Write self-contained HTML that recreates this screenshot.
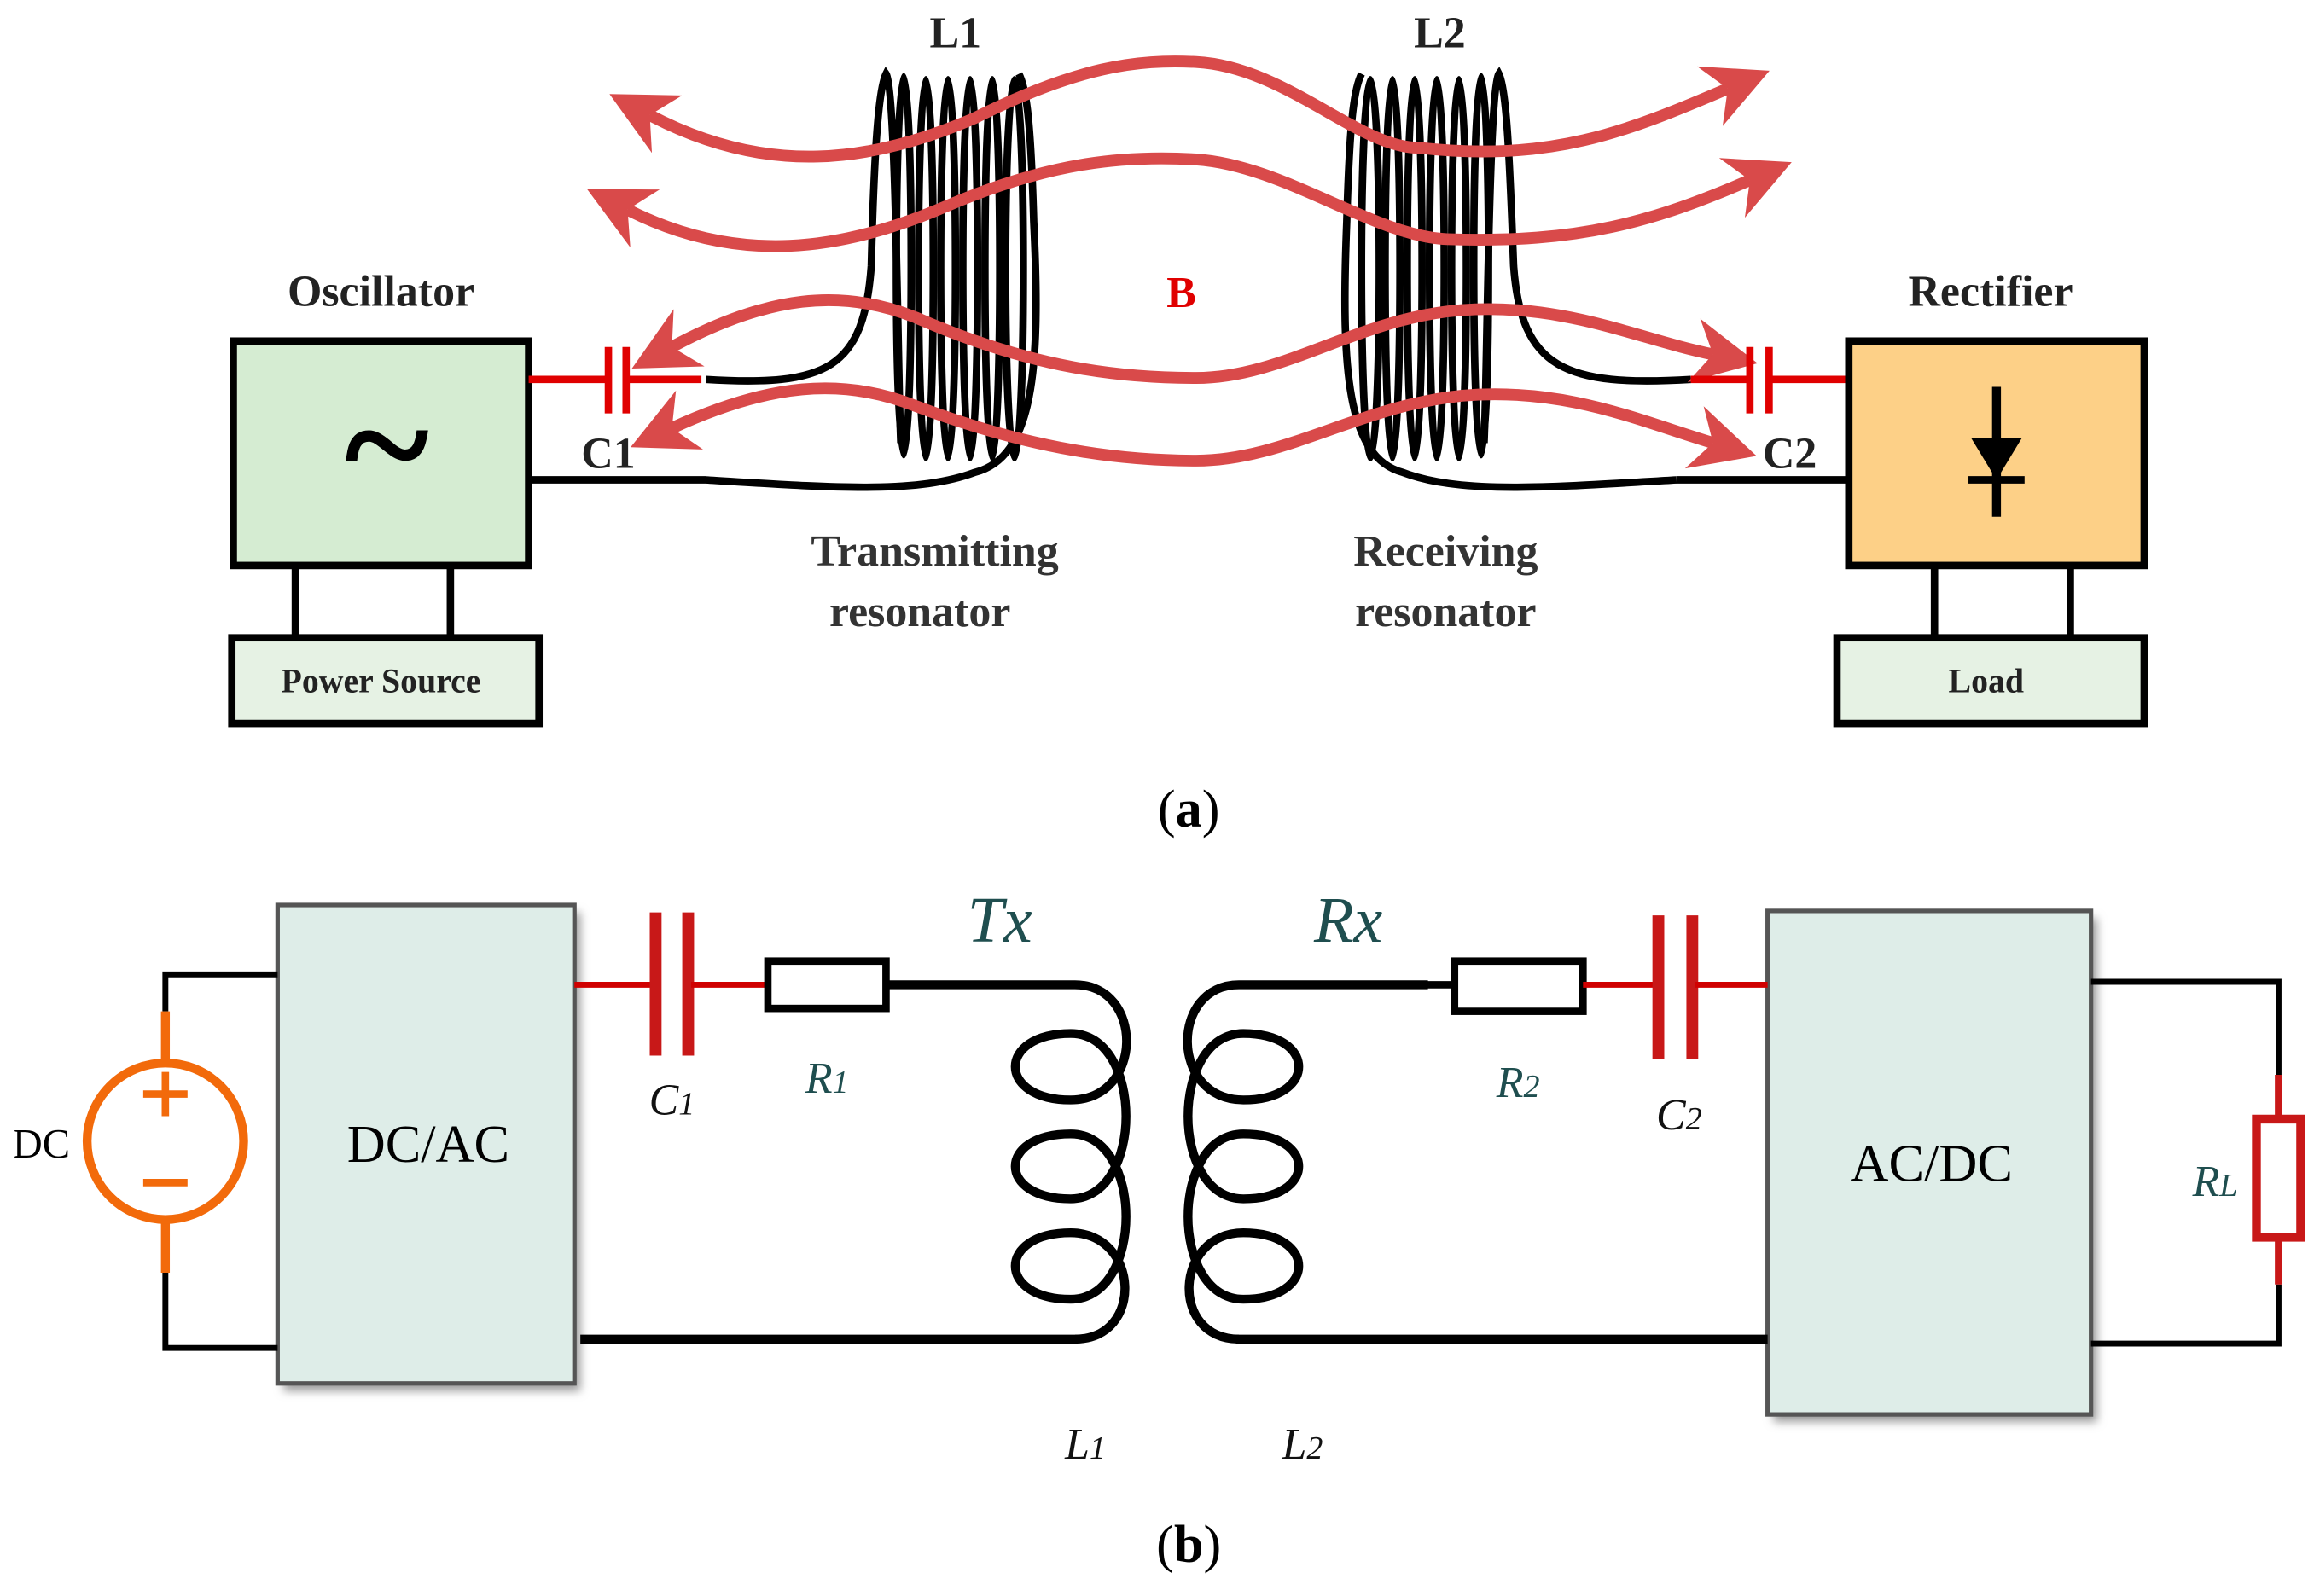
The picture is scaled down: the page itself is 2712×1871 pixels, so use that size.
<!DOCTYPE html>
<html><head><meta charset="utf-8"><style>html,body{margin:0;padding:0;background:#fff}svg{display:block}</style></head>
<body>
<svg width="2712" height="1871" viewBox="0 0 1567 1081" preserveAspectRatio="none" xmlns="http://www.w3.org/2000/svg" font-family="Liberation Serif, serif">
<defs>
<filter id="sh" x="-10%" y="-10%" width="130%" height="130%"><feGaussianBlur stdDeviation="3"/></filter>
<marker id="ah" viewBox="0 0 10 10" refX="3" refY="5" markerWidth="5.5" markerHeight="5.5" orient="auto-start-reverse"><path d="M0,0 L10,5 L0,10 L3,5 z" fill="#d94a4a"/></marker>
</defs>
<!-- (a) -->
<text x="258" y="207" font-size="30" font-weight="bold" text-anchor="middle" fill="#222">Oscillator</text>
<rect x="158" y="231" width="200" height="152" fill="#d5ecd2" stroke="#000" stroke-width="5"/>
<text x="262" y="338" font-size="110" font-weight="bold" text-anchor="middle">~</text>
<line x1="200" y1="383" x2="200" y2="432" stroke="#000" stroke-width="5"/>
<line x1="305" y1="383" x2="305" y2="432" stroke="#000" stroke-width="5"/>
<rect x="157" y="432" width="208" height="58" fill="#e6f2e4" stroke="#000" stroke-width="5"/>
<text x="258" y="469" font-size="23" font-weight="bold" text-anchor="middle" fill="#222">Power Source</text>
<line x1="358" y1="257" x2="412" y2="257" stroke="#e00000" stroke-width="5"/>
<line x1="412" y1="235" x2="412" y2="280" stroke="#e00000" stroke-width="5"/>
<line x1="424" y1="235" x2="424" y2="280" stroke="#e00000" stroke-width="5"/>
<line x1="424" y1="257" x2="475" y2="257" stroke="#e00000" stroke-width="5"/>
<text x="412" y="317" font-size="30" font-weight="bold" text-anchor="middle" fill="#222">C1</text>
<line x1="358" y1="325" x2="478" y2="325" stroke="#000" stroke-width="5"/>
<g fill="none" stroke="#000" stroke-width="5">
<path d="M478,257 C560,262 585,250 590,180 C592,100 595,60 600,50 C607,60 608,260 610,300"/>
<ellipse cx="612" cy="180" rx="5" ry="128"/><ellipse cx="627" cy="182" rx="5" ry="128"/><ellipse cx="642" cy="182" rx="5" ry="128"/>
<ellipse cx="657" cy="182" rx="5" ry="128"/><ellipse cx="672" cy="182" rx="5" ry="128"/><ellipse cx="687" cy="182" rx="6" ry="128"/>
<path d="M478,325 C560,330 620,335 660,320 C700,310 705,250 700,150 C698,80 695,60 690,50"/>
</g>
<text x="647" y="32" font-size="30" font-weight="bold" text-anchor="middle" fill="#222">L1</text>
<g fill="none" stroke="#000" stroke-width="5">
<path d="M1135,325 C1050,330 990,335 950,320 C912,310 908,250 912,150 C914,80 917,60 922,50"/>
<ellipse cx="928" cy="182" rx="6" ry="128"/><ellipse cx="943" cy="182" rx="5" ry="128"/><ellipse cx="958" cy="182" rx="5" ry="128"/>
<ellipse cx="973" cy="182" rx="5" ry="128"/><ellipse cx="988" cy="182" rx="5" ry="128"/><ellipse cx="1003" cy="180" rx="5" ry="128"/>
<path d="M1145,257 C1060,262 1030,250 1025,180 C1022,100 1020,60 1015,50 C1008,60 1007,260 1005,300"/>
</g>
<text x="975" y="32" font-size="30" font-weight="bold" text-anchor="middle" fill="#222">L2</text>
<g fill="none" stroke="#d94a4a" stroke-width="8" marker-start="url(#ah)" marker-end="url(#ah)">
<path d="M440,78 C520,120 590,110 660,80 C730,45 770,40 810,42 C870,45 920,100 960,100 C1050,110 1100,90 1170,60"/>
<path d="M425,142 C500,180 570,170 640,140 C710,110 760,105 810,108 C870,112 930,160 980,162 C1070,165 1120,150 1185,122"/>
<path d="M455,235 C520,200 570,195 620,215 C700,250 760,256 810,256 C870,256 920,215 990,210 C1060,205 1110,230 1160,240"/>
<path d="M455,290 C520,260 570,255 620,275 C700,305 760,312 810,312 C870,312 920,275 990,268 C1060,262 1110,285 1160,300"/>
</g>
<text x="800" y="208" font-size="30" font-weight="bold" text-anchor="middle" fill="#e00000">B</text>
<text x="633" y="383" font-size="30" font-weight="bold" text-anchor="middle" fill="#333">Transmitting</text>
<text x="623" y="424" font-size="30" font-weight="bold" text-anchor="middle" fill="#333">resonator</text>
<text x="979" y="383" font-size="30" font-weight="bold" text-anchor="middle" fill="#333">Receiving</text>
<text x="979" y="424" font-size="30" font-weight="bold" text-anchor="middle" fill="#333">resonator</text>
<line x1="1145" y1="257" x2="1185" y2="257" stroke="#e00000" stroke-width="5"/>
<line x1="1185" y1="235" x2="1185" y2="280" stroke="#e00000" stroke-width="5"/>
<line x1="1198" y1="235" x2="1198" y2="280" stroke="#e00000" stroke-width="5"/>
<line x1="1198" y1="257" x2="1252" y2="257" stroke="#e00000" stroke-width="5"/>
<text x="1212" y="317" font-size="30" font-weight="bold" text-anchor="middle" fill="#222">C2</text>
<line x1="1135" y1="325" x2="1252" y2="325" stroke="#000" stroke-width="5"/>
<text x="1348" y="207" font-size="30" font-weight="bold" text-anchor="middle" fill="#222">Rectifier</text>
<rect x="1252" y="231" width="200" height="152" fill="#fdd087" stroke="#000" stroke-width="5"/>
<line x1="1352" y1="262" x2="1352" y2="350" stroke="#000" stroke-width="6"/>
<path d="M1335,297 L1369,297 L1352,325 z" fill="#000"/>
<line x1="1333" y1="325" x2="1371" y2="325" stroke="#000" stroke-width="5"/>
<line x1="1310" y1="383" x2="1310" y2="432" stroke="#000" stroke-width="5"/>
<line x1="1402" y1="383" x2="1402" y2="432" stroke="#000" stroke-width="5"/>
<rect x="1244" y="432" width="208" height="58" fill="#e6f2e4" stroke="#000" stroke-width="5"/>
<text x="1345" y="469" font-size="23" font-weight="bold" text-anchor="middle" fill="#222">Load</text>
<text x="805" y="560" font-size="36" text-anchor="middle">(<tspan font-weight="bold">a</tspan>)</text>
<!-- (b) -->
<rect x="192" y="618" width="201" height="324" fill="#999" filter="url(#sh)"/>
<rect x="188" y="613" width="201" height="324" fill="#deede8" stroke="#555" stroke-width="3"/>
<text x="290" y="787" font-size="36" text-anchor="middle">DC/AC</text>
<rect x="1201" y="622" width="219" height="341" fill="#999" filter="url(#sh)"/>
<rect x="1197" y="617" width="219" height="341" fill="#deede8" stroke="#555" stroke-width="3"/>
<text x="1308" y="800" font-size="36" text-anchor="middle">AC/DC</text>
<path d="M188,660 H112 V685" fill="none" stroke="#000" stroke-width="4"/>
<path d="M188,913 H112 V862" fill="none" stroke="#000" stroke-width="4"/>
<line x1="112" y1="685" x2="112" y2="720" stroke="#f26a0b" stroke-width="6"/>
<line x1="112" y1="826" x2="112" y2="862" stroke="#f26a0b" stroke-width="6"/>
<circle cx="112" cy="773" r="53" fill="none" stroke="#f26a0b" stroke-width="6"/>
<line x1="97" y1="741" x2="127" y2="741" stroke="#f26a0b" stroke-width="5"/>
<line x1="112" y1="726" x2="112" y2="756" stroke="#f26a0b" stroke-width="5"/>
<line x1="97" y1="801" x2="127" y2="801" stroke="#f26a0b" stroke-width="5"/>
<text x="28" y="784" font-size="28" text-anchor="middle">DC</text>
<line x1="389" y1="667" x2="442" y2="667" stroke="#d00000" stroke-width="4"/>
<line x1="444" y1="618" x2="444" y2="715" stroke="#c81818" stroke-width="8"/>
<line x1="466" y1="618" x2="466" y2="715" stroke="#c81818" stroke-width="8"/>
<line x1="468" y1="667" x2="520" y2="667" stroke="#d00000" stroke-width="4"/>
<rect x="520" y="651" width="80" height="32" fill="#fff" stroke="#000" stroke-width="5"/>
<g fill="none" stroke="#000" stroke-width="6">
<path d="M600,667 H728 C775,667 775,745 725,745 C675,745 675,700 725,700 C775,700 775,812 725,812 C675,812 675,768 725,768 C775,768 775,880 725,880 C675,880 675,835 725,835 C772,835 775,907 728,907"/>
<path d="M393,907 H730"/>
<path d="M967,667 H839 C792,667 792,745 842,745 C892,745 892,700 842,700 C792,700 792,812 842,812 C892,812 892,768 842,768 C792,768 792,880 842,880 C892,880 892,835 842,835 C795,835 792,907 839,907"/>
<path d="M837,907 H1197"/>
</g>
<rect x="985" y="651" width="87" height="34" fill="#fff" stroke="#000" stroke-width="5"/>
<line x1="965" y1="667" x2="985" y2="667" stroke="#000" stroke-width="5"/>
<line x1="1072" y1="667" x2="1120" y2="667" stroke="#d00000" stroke-width="4"/>
<line x1="1123" y1="620" x2="1123" y2="717" stroke="#c81818" stroke-width="8"/>
<line x1="1146" y1="620" x2="1146" y2="717" stroke="#c81818" stroke-width="8"/>
<line x1="1148" y1="667" x2="1197" y2="667" stroke="#d00000" stroke-width="4"/>
<path d="M1416,665 H1543 V728" fill="none" stroke="#000" stroke-width="4"/>
<path d="M1543,870 V910 H1416" fill="none" stroke="#000" stroke-width="4"/>
<line x1="1543" y1="728" x2="1543" y2="760" stroke="#c81818" stroke-width="5"/>
<line x1="1543" y1="836" x2="1543" y2="870" stroke="#c81818" stroke-width="5"/>
<rect x="1528" y="758" width="30" height="80" fill="#fff" stroke="#c81818" stroke-width="6"/>
<g font-style="italic" font-size="44" fill="#1f4e4f" text-anchor="middle">
<text x="677" y="638">Tx</text><text x="913" y="638">Rx</text>
</g>
<g font-style="italic" font-size="30" text-anchor="middle">
<text x="455" y="755" fill="#111">C<tspan font-size="22">1</tspan></text>
<text x="560" y="740" fill="#1f4e4f">R<tspan font-size="22">1</tspan></text>
<text x="1028" y="743" fill="#1f4e4f">R<tspan font-size="22">2</tspan></text>
<text x="1137" y="765" fill="#111">C<tspan font-size="22">2</tspan></text>
<text x="735" y="988" fill="#111">L<tspan font-size="22">1</tspan></text>
<text x="882" y="988" fill="#111">L<tspan font-size="22">2</tspan></text>
<text x="1500" y="810" fill="#1f4e4f">R<tspan font-size="22">L</tspan></text>
</g>
<text x="805" y="1058" font-size="36" text-anchor="middle">(<tspan font-weight="bold">b</tspan>)</text>
</svg>
</body></html>
